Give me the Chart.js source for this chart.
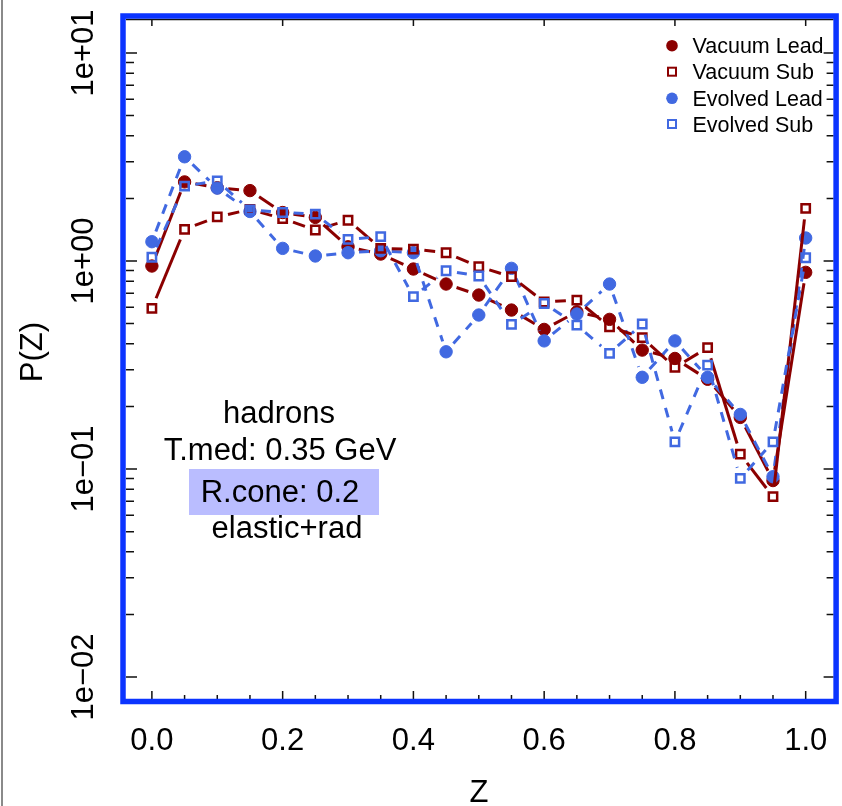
<!DOCTYPE html>
<html lang="en">
<head>
    <meta charset="UTF-8">
    <title>P(Z) hadrons</title>
    <script src="https://cdn.jsdelivr.net/npm/chart.js"></script>
    <style>
        body {
            margin: 0;
            background-color: #ffffff;
        }
        canvas {
            display: block;
        }
    </style>
</head>
<body>

    <canvas id="pzChart" width="842" height="806"></canvas>

    <script>
        // Z bins
        var zValues = [0.00, 0.05, 0.10, 0.15, 0.20, 0.25, 0.30, 0.35, 0.40, 0.45, 0.50,
                       0.55, 0.60, 0.65, 0.70, 0.75, 0.80, 0.85, 0.90, 0.95, 1.00];

        // P(Z) for each series
        var vacuumLead  = [0.946, 2.40, 2.25, 2.18, 1.71, 1.62, 1.17, 1.08, 0.915, 0.775, 0.686,
                           0.581, 0.469, 0.57, 0.524, 0.373, 0.34, 0.27, 0.177, 0.088, 0.882];
        var vacuumSub   = [0.592, 1.42, 1.63, 1.77, 1.60, 1.41, 1.57, 1.15, 1.14, 1.096, 0.939,
                           0.841, 0.635, 0.649, 0.483, 0.428, 0.308, 0.383, 0.118, 0.0736, 1.79];
        var evolvedLead = [1.238, 3.17, 2.24, 1.73, 1.15, 1.057, 1.096, 1.12, 1.096, 0.366, 0.55,
                           0.922, 0.413, 0.556, 0.775, 0.276, 0.413, 0.276, 0.183, 0.0918, 1.29];
        var evolvedSub  = [1.042, 2.29, 2.43, 1.76, 1.71, 1.68, 1.27, 1.31, 0.674, 0.898, 0.847,
                           0.496, 0.625, 0.492, 0.36, 0.498, 0.135, 0.316, 0.0902, 0.135, 1.037];

        var seriesNames = ['Vacuum Lead', 'Vacuum Sub', 'Evolved Lead', 'Evolved Sub'];

        // axis ticks
        var xTicks = [0.0, 0.2, 0.4, 0.6, 0.8, 1.0];
        var yTicks = [10, 1, 0.1, 0.01];
        var yTickLabels = ['1e+01', '1e+00', '1e\u221201', '1e\u221202'];

        var annotationLines = ['hadrons', 'T.med: 0.35 GeV', 'R.cone: 0.2', 'elastic+rad'];

        var RED = '#8b0000';
        var BLUE = '#4169e1';
        var FONT = '"Liberation Sans", Arial, Helvetica, sans-serif';

        // minor tick positions
        var xMinor = [];
        for (var i = 1; i < 20; i++) {
            if (i % 4 !== 0) xMinor.push(i * 0.05);
        }
        var yMinor = [];
        [0.01, 0.1, 1].forEach(function (d) {
            for (var m = 2; m <= 9; m++) yMinor.push(d * m);
        });

        // segments with a gap around each point (R type="b"), optionally dashed
        function gappedDash(gap, on, off) {
            return function (ctx) {
                var dx = ctx.p1.x - ctx.p0.x, dy = ctx.p1.y - ctx.p0.y;
                var len = Math.sqrt(dx * dx + dy * dy);
                var rest = len - 2 * gap;
                if (rest <= 0) return [0, len + 50];
                var pattern = [0, gap];
                if (!on) {
                    pattern.push(rest, gap + 50);
                    return pattern;
                }
                while (rest > 0) {
                    var d = Math.min(on, rest);
                    pattern.push(d);
                    rest -= d;
                    if (rest <= 0) break;
                    var s = Math.min(off, rest);
                    pattern.push(s);
                    rest -= s;
                    if (rest <= 0) { pattern.push(0); break; }
                }
                pattern.push(gap + 50);
                return pattern;
            };
        }

        function points(values) {
            return zValues.map(function (z, i) { return { x: z, y: values[i] }; });
        }

        function makeDataset(label, values, color, filled, dashed, order) {
            return {
                label: label,
                data: points(values),
                order: order,
                borderColor: color,
                borderWidth: 3,
                fill: false,
                tension: 0,
                pointStyle: filled ? 'circle' : 'rect',
                pointRadius: filled ? 6.2 : 5.9,
                pointBorderWidth: filled ? 1 : 2.5,
                pointBorderColor: color,
                pointBackgroundColor: filled ? color : 'rgba(0,0,0,0)',
                segment: {
                    borderDash: dashed ? gappedDash(11, 10, 9) : gappedDash(11)
                }
            };
        }

        // frame, inward ticks, y labels, titles, legend and text box
        var decorations = {
            id: 'decorations',
            afterDraw: function (chart) {
                var ctx = chart.ctx;
                var a = chart.chartArea;
                var xs = chart.scales.x, ys = chart.scales.y;
                ctx.save();

                // page edge line
                ctx.strokeStyle = '#8a8a8a';
                ctx.lineWidth = 2;
                ctx.beginPath();
                ctx.moveTo(2, 0);
                ctx.lineTo(2, 806);
                ctx.stroke();

                // tick marks
                ctx.strokeStyle = '#111';
                ctx.lineWidth = 1.5;
                ctx.beginPath();
                xMinor.forEach(function (v) {
                    var px = xs.getPixelForValue(v);
                    ctx.moveTo(px, a.bottom);
                    ctx.lineTo(px, a.bottom - 4);
                });
                xTicks.forEach(function (v) {
                    var px = xs.getPixelForValue(v);
                    ctx.moveTo(px, a.bottom);
                    ctx.lineTo(px, a.bottom - 8);
                    ctx.moveTo(px, a.top);
                    ctx.lineTo(px, a.top + 7);
                });
                yMinor.forEach(function (v) {
                    var py = ys.getPixelForValue(v);
                    ctx.moveTo(a.left, py);
                    ctx.lineTo(a.left + 8, py);
                    ctx.moveTo(a.right, py);
                    ctx.lineTo(a.right - 7, py);
                });
                yTicks.forEach(function (v) {
                    var py = ys.getPixelForValue(v);
                    ctx.moveTo(a.left, py);
                    ctx.lineTo(a.left + 11, py);
                    ctx.moveTo(a.right, py);
                    ctx.lineTo(a.right - 10, py);
                });
                ctx.moveTo(a.left, a.top + 0.5);
                ctx.lineTo(a.right, a.top + 0.5);
                ctx.stroke();

                // blue frame
                ctx.strokeStyle = '#0b34ff';
                ctx.lineWidth = 5.5;
                ctx.strokeRect(a.left - 3, a.top - 3, a.right - a.left + 5.5, a.bottom - a.top + 5.5);

                // y tick labels, rotated
                ctx.fillStyle = '#000';
                ctx.font = '31px ' + FONT;
                ctx.textAlign = 'center';
                ctx.textBaseline = 'alphabetic';
                yTicks.forEach(function (v, i) {
                    var py = ys.getPixelForValue(v);
                    ctx.save();
                    ctx.translate(93, py);
                    ctx.rotate(-Math.PI / 2);
                    ctx.fillText(yTickLabels[i], 0, 0);
                    ctx.restore();
                });

                // axis titles
                ctx.save();
                ctx.translate(42, 352);
                ctx.rotate(-Math.PI / 2);
                ctx.fillText('P(Z)', 0, 0);
                ctx.restore();
                ctx.fillText('Z', 479, 802);

                // text box
                ctx.fillStyle = '#babdff';
                ctx.fillRect(189, 469, 190, 46);
                ctx.fillStyle = '#000';
                ctx.fillText(annotationLines[0], 279, 423);
                ctx.fillText(annotationLines[1], 280, 460);
                ctx.fillText(annotationLines[2], 280, 502);
                ctx.fillText(annotationLines[3], 287, 538);

                // legend
                ctx.font = '21.5px ' + FONT;
                ctx.textAlign = 'left';
                var rowY = [45.7, 71.7, 98.3, 124];
                var colors = [RED, RED, BLUE, BLUE];
                seriesNames.forEach(function (name, i) {
                    var cy = rowY[i];
                    if (i % 2 === 0) {
                        ctx.fillStyle = colors[i];
                        ctx.beginPath();
                        ctx.arc(672, cy, 5.8, 0, Math.PI * 2);
                        ctx.fill();
                    } else {
                        ctx.strokeStyle = colors[i];
                        ctx.lineWidth = 2;
                        ctx.strokeRect(668, cy - 4, 8, 8);
                    }
                    ctx.fillStyle = '#000';
                    ctx.fillText(name, 692.5, cy + 7.6);
                });

                ctx.restore();
            }
        };

        var chart = new Chart(document.getElementById('pzChart').getContext('2d'), {
            type: 'line',
            data: {
                datasets: [
                    makeDataset(seriesNames[0], vacuumLead, RED, true, false, 4),
                    makeDataset(seriesNames[1], vacuumSub, RED, false, false, 2),
                    makeDataset(seriesNames[2], evolvedLead, BLUE, true, true, 3),
                    makeDataset(seriesNames[3], evolvedSub, BLUE, false, true, 1)
                ]
            },
            options: {
                responsive: false,
                devicePixelRatio: 1,
                animation: false,
                layout: {
                    padding: { top: 19, right: 6, left: 0, bottom: 0 }
                },
                plugins: {
                    legend: { display: false },
                    tooltip: { enabled: false }
                },
                scales: {
                    x: {
                        type: 'linear',
                        min: -0.0396,
                        max: 1.0427,
                        grid: { display: false },
                        border: { display: false },
                        afterBuildTicks: function (scale) {
                            scale.ticks = xTicks.map(function (v) { return { value: v }; });
                        },
                        afterFit: function (scale) {
                            scale.height = 107;
                            scale.paddingLeft = 0;
                            scale.paddingRight = 0;
                        },
                        ticks: {
                            autoSkip: false,
                            maxRotation: 0,
                            padding: 16,
                            color: '#000',
                            font: { family: FONT, size: 31 },
                            callback: function (value) {
                                return Number(value).toFixed(1);
                            }
                        }
                    },
                    y: {
                        type: 'logarithmic',
                        min: 0.00784,
                        max: 14.57,
                        grid: { display: false },
                        border: { display: false },
                        ticks: { display: false },
                        afterFit: function (scale) {
                            scale.width = 126;
                        }
                    }
                }
            },
            plugins: [decorations]
        });
    </script>

</body>
</html>
